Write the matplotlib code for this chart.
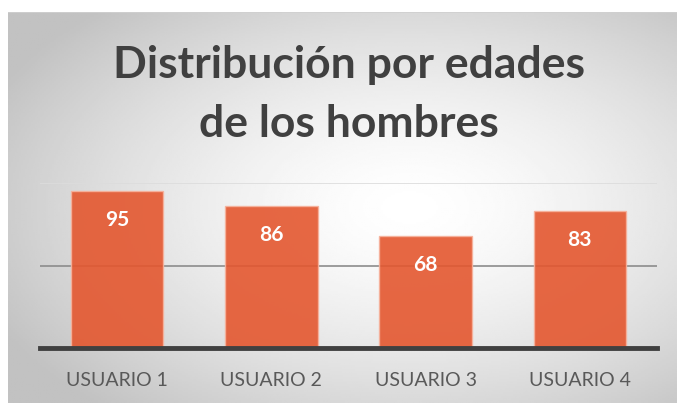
import numpy as np
import matplotlib
matplotlib.use('Agg')
import matplotlib.pyplot as plt

# ============================================
# DATA
# ============================================
usuarios = ['USUARIO 1', 'USUARIO 2', 'USUARIO 3', 'USUARIO 4']
edades   = [95, 86, 68, 83]
titulo   = ['Distribución por edades', 'de los hombres']

W, H, DPI = 677, 403, 100
fig = plt.figure(figsize=(W / DPI, H / DPI), dpi=DPI)
fig.patch.set_facecolor('white')

# chart area background (radial grey gradient, white in the middle)
bg = fig.add_axes([8 / W, 0, 1 - 8 / W, 1 - 12 / H])
yy, xx = np.mgrid[0:1:200j, 0:1:340j]
r = np.sqrt(((xx - 0.6) / 0.8) ** 2 + ((yy - 0.5) / 0.8) ** 2)
shade = np.clip(1.0 - 0.3 * r ** 1.5, 0.76, 1.0)
bg.imshow(shade, cmap='gray', vmin=0, vmax=1, aspect='auto',
          extent=[0, 1, 0, 1], origin='upper')
bg.axhline(1, color='#d0d0d0', lw=1.2)
bg.set_axis_off()

# plot area
left, right, base, top = 40, 657, 348, 183
ax = fig.add_axes([left / W, 1 - base / H, (right - left) / W, (base - top) / H])
ax.set_facecolor('none')
ax.set_xlim(-0.5, 3.5)
ax.set_ylim(0, 100)

ax.axhline(100, color='#dcdcdc', lw=1.2, zorder=1)
ax.axhline(50, color='#8c8c8c', lw=1.2, zorder=1)

x = np.arange(len(usuarios))
bars = ax.bar(x, edades, width=0.6, color='#E4572F', alpha=0.9,
              edgecolor='#F6B29C', linewidth=1, zorder=2)
for b, v in zip(bars, edades):
    ax.annotate(str(v), (b.get_x() + b.get_width() / 2, v),
                xytext=(0, -29), textcoords='offset pixels',
                ha='center', va='center', color='white',
                fontsize=15, fontweight='bold', family='Lato', zorder=3)

ax.axhline(0, color='#404040', lw=3.5, zorder=4, clip_on=False)

ax.set_xticks(x)
ax.set_xticklabels(usuarios, fontsize=14, color='#595959', family='Lato')
ax.tick_params(axis='x', length=0, pad=17)
ax.set_yticks([])
for s in ax.spines.values():
    s.set_visible(False)

# title, two lines placed on their baselines
for linea, yb in zip(titulo, [78, 137]):
    fig.text(349 / W, 1 - yb / H, linea, ha='center', va='baseline',
             fontsize=32, fontweight='bold', color='#404040', family='Lato')

plt.savefig('out.png', dpi=DPI)
plt.close()
